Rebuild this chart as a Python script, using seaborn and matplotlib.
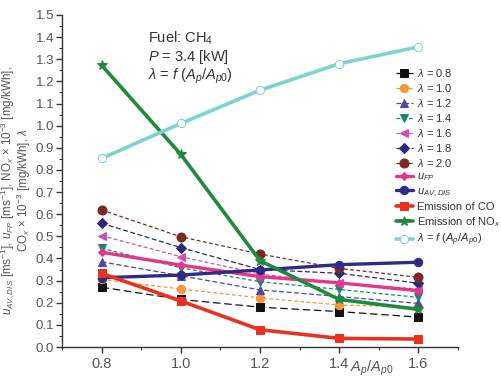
import matplotlib
matplotlib.use("Agg")
import matplotlib.pyplot as plt
import seaborn as sns
import numpy as np
import pandas as pd
from matplotlib.ticker import MultipleLocator

sns.set_theme(style="ticks")
plt.rcParams['font.family'] = ['Liberation Sans', 'DejaVu Sans']
plt.rcParams['mathtext.fontset'] = 'custom'
plt.rcParams['mathtext.rm'] = 'Liberation Sans'
plt.rcParams['mathtext.it'] = 'Liberation Sans:italic'

area_ratio = [0.8, 1.0, 1.2, 1.4, 1.6]

lam_08 = [0.270, 0.215, 0.180, 0.160, 0.135]
lam_10 = [0.305, 0.262, 0.222, 0.190, 0.180]
lam_12 = [0.385, 0.322, 0.258, 0.228, 0.197]
lam_14 = [0.446, 0.358, 0.295, 0.260, 0.224]
lam_16 = [0.503, 0.408, 0.330, 0.288, 0.262]
lam_18 = [0.559, 0.449, 0.350, 0.333, 0.288]
lam_20 = [0.619, 0.498, 0.420, 0.355, 0.315]
u_fp = [0.428, 0.370, 0.318, 0.290, 0.254]
u_av_dis = [0.313, 0.325, 0.348, 0.372, 0.383]
co_emission = [0.333, 0.208, 0.078, 0.039, 0.036]
nox_emission = [1.273, 0.870, 0.390, 0.215, 0.170]
lambda_f = [0.852, 1.010, 1.160, 1.280, 1.356]

lam_labels = [r"$\lambda$ = 0.8", r"$\lambda$ = 1.0", r"$\lambda$ = 1.2",
              r"$\lambda$ = 1.4", r"$\lambda$ = 1.6", r"$\lambda$ = 1.8",
              r"$\lambda$ = 2.0"]

fig = plt.figure(figsize=(5.02, 3.8), dpi=100)
ax = fig.add_axes([62/502, 1-347/380, (458-62)/502, (347-15)/380])

lam_series = [lam_08, lam_10, lam_12, lam_14, lam_16, lam_18, lam_20]
lam_colors = ["#111111", "#f3973a", "#4b48a6", "#1c8476", "#d04fb0", "#2b2a78", "#7a2a22"]
lam_markers = ["s", "o", "^", "v", "<", "D", "o"]
lam_dashes = [(6, 3), (3, 2), (4, 2), (3, 2), (3, 2), (4, 2), (3, 2)]
lam_ms = [5.5, 6, 6, 6, 6, 5, 6.5]

for vals, col, mk, ds, lab, ms in zip(lam_series, lam_colors, lam_markers, lam_dashes, lam_labels, lam_ms):
    sns.lineplot(x=area_ratio, y=vals, ax=ax, color=col, marker=mk, markersize=ms,
                 markeredgecolor=col, linewidth=0.9, linestyle=(0, ds), label=lab)

sns.lineplot(x=area_ratio, y=u_fp, ax=ax, color="#e8358c", marker="D", markersize=4,
             markeredgecolor="#e8358c", linewidth=2.4, label=r"$u_{FP}$")
sns.lineplot(x=area_ratio, y=u_av_dis, ax=ax, color="#2f2a88", marker="o", markersize=6,
             markeredgecolor="#2f2a88", linewidth=2.4, label=r"$u_{AV,DIS}$")
sns.lineplot(x=area_ratio, y=co_emission, ax=ax, color="#e8321f", marker="s", markersize=6,
             markeredgecolor="#e8321f", linewidth=2.6, label="Emission of CO")
sns.lineplot(x=area_ratio, y=nox_emission, ax=ax, color="#1f8a3a", marker="*", markersize=7,
             markeredgecolor="#1f8a3a", linewidth=2.6, label=r"Emission of NO$_x$")
sns.lineplot(x=area_ratio, y=lambda_f, ax=ax, color="#7dd3d3", marker="o", markersize=6,
             markerfacecolor="white", markeredgecolor="#7dd3d3", linewidth=2.6,
             label=r"$\lambda$ = $f$ ($A_p$/$A_{p0}$)")

ax.set_xlim(0.7, 1.7)
ax.set_ylim(0.0, 1.5)
ax.xaxis.set_major_locator(MultipleLocator(0.2))
ax.xaxis.set_minor_locator(MultipleLocator(0.1))
ax.yaxis.set_major_locator(MultipleLocator(0.1))
ax.yaxis.set_minor_locator(MultipleLocator(0.05))
ax.set_xticks([0.8, 1.0, 1.2, 1.4, 1.6])
ax.set_xticklabels(["0.8", "1.0", "1.2", "1.4", "1.6"])
ax.tick_params(axis='both', which='major', direction='out', length=4, width=1,
               colors="#333333", labelcolor="#555555")
ax.tick_params(axis='x', labelsize=10.5)
ax.tick_params(axis='y', labelsize=9.5, pad=1.5)
ax.tick_params(axis='both', which='minor', direction='out', length=2.5, width=0.8, colors="#333333")
for s in ["top", "right"]:
    ax.spines[s].set_visible(False)
for s in ["left", "bottom"]:
    ax.spines[s].set_color("#333333")
    ax.spines[s].set_linewidth(1.0)

ax.set_xlabel("")
ax.set_ylabel("")
fig.text(372/502, 1-368/380, r"$A_p$/$A_{p0}$", fontsize=10.5, color="#555555",
         ha="center", va="center")
fig.text(16/502, 1-190/380,
         "$u_{AV,DIS}$ [ms$^{-1}$], $u_{FP}$ [ms$^{-1}$], NO$_x$ × 10$^{-3}$ [mg/kWh],\n"
         "CO$_x$ × 10$^{-3}$ [mg/kWh], $\\lambda$",
         rotation=90, fontsize=8.4, color="#555555", ha="center", va="center",
         multialignment="center", linespacing=0.92)

ax.text(148/502, 1-30/380, "Fuel: CH$_4$\n$P$ = 3.4 [kW]\n$\\lambda$ = $f$ ($A_p$/$A_{p0}$)",
        transform=fig.transFigure, fontsize=10.5, color="#333333", va="top", ha="left",
        linespacing=1.05)

handles, labels = ax.get_legend_handles_labels()
ax.legend(handles, labels, loc="upper left", bbox_to_anchor=(390/502, 1-61/380),
          bbox_transform=fig.transFigure, frameon=False, fontsize=8.0,
          handlelength=1.6, handletextpad=0.3, labelspacing=0.27, borderpad=0,
          labelcolor="#333333")

fig.savefig("out.png", dpi=100)
